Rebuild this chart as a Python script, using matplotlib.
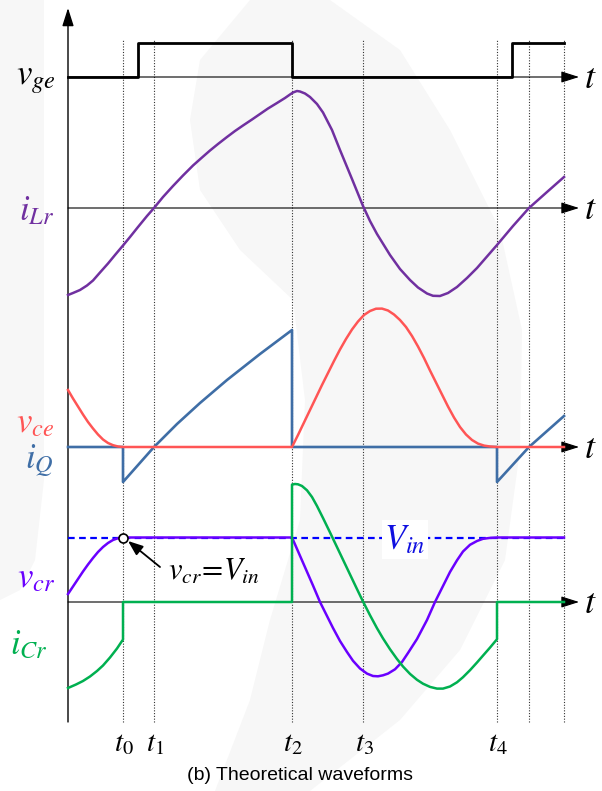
import numpy as np
import matplotlib.pyplot as plt
from matplotlib.patches import Polygon

plt.rcParams['mathtext.fontset'] = 'stix'

# switching instants (time units, 0 = vertical axis)
t_marks = [55, 86, 224, 295, 429, 461, 496]
t_names = [r'$t_0$', r'$t_1$', r'$t_2$', r'$t_3$', r'$t_4$', '', '']

# gate signal
vge_t = [0, 70, 70, 224, 224, 444, 444, 496]
vge = [0, 0, 34, 34, 0, 0, 34, 34]

# resonant inductor current
iLr_t = [0, 5, 12, 19, 25, 32, 40, 47, 55, 62, 70, 79, 86, 95, 105, 115, 125, 134, 142,
         150, 159, 167, 175, 184, 192, 200, 209, 217, 222, 225, 229, 232, 237, 242, 249,
         255, 264, 272, 284, 295, 302, 309, 322, 332, 342, 350, 359, 365, 372, 380, 389,
         399, 409, 419, 429, 445, 461, 479, 496]
iLr = [-87, -85, -82, -77.5, -72.5, -64.5, -55.5, -47, -37.5, -29, -19, -8, 0, 11, 22,
       32.5, 42.5, 50.5, 57.5, 64, 71, 77, 82.5, 88.5, 94, 99.5, 105, 110, 113.5, 115.5,
       117, 116.5, 114.5, 111, 104, 95.5, 78, 58, 29, 2, -13, -26, -47, -61, -72, -79.5,
       -85.5, -87.8, -88, -85, -79, -70, -60, -48.5, -37, -18, 0, 16, 31]

# switch voltage / current
vce_t = [0, 5, 10, 15, 20, 25, 30, 35, 40, 45, 50, 55, 224, 230, 236, 242, 248, 254,
         260, 266, 272, 278, 284, 290, 296, 302, 308, 314, 320, 326, 332, 338, 344, 350,
         356, 362, 368, 374, 380, 386, 392, 398, 404, 410, 416, 422, 429, 496]
vce = [57, 48.5, 40.5, 32.5, 25, 18.5, 12.5, 7.5, 4, 1.8, 0.5, 0, 0, 12, 24.5, 37, 49.5,
       62, 74, 86, 97.5, 108, 117.5, 125.5, 132, 136, 138.3, 138.4, 136.5, 132.5, 127,
       120, 111, 100.5, 89, 76.5, 64.5, 52.5, 40.5, 29.5, 20, 12.5, 7, 3.4, 1.4, 0.5, 0, 0]

iQ_t = [0, 55, 55, 86, 109, 132, 159, 192, 224, 224, 429, 429, 461, 496]
iQ = [0, 0, -35, 0, 23, 44, 67, 93, 117, 0, 0, -35, 0, 31]

# resonant capacitor voltage / current
vin_level = 64.5
vcr_t = [0, 5, 10, 15, 20, 25, 30, 35, 40, 45, 50, 55, 224, 231, 238, 245, 252, 259,
         265, 272, 279, 285, 292, 299, 305, 310, 315, 320, 327, 334, 340, 349, 359, 367,
         375, 382, 389, 395, 402, 409, 415, 422, 429, 496]
vcr = [8, 15.5, 23, 30.5, 37.5, 44, 50, 55, 59, 62, 63.8, 64.5, 64.5, 48.5, 32.5, 16.5,
       0, -14, -26, -39, -50, -58.8, -66.5, -71.6, -74, -74.3, -73.3, -71.6, -67.3, -60,
       -51, -37, -18, 0, 16, 30, 41.7, 50.5, 57.2, 61, 63.2, 64.1, 64.5, 64.5]

iCr_t = [0, 8, 15, 22, 29, 35, 42, 49, 55, 55, 224, 224, 227, 230, 234, 239, 244, 249,
         255, 262, 269, 275, 282, 289, 295, 302, 309, 315, 322, 329, 335, 342, 349, 355,
         362, 369, 375, 382, 389, 395, 402, 409, 415, 422, 429, 429, 496]
iCr = [-86, -82.5, -79, -74.5, -69, -63.5, -55.5, -46.5, -37.5, 0, 0, 117.4, 118, 117.7,
       116, 111.7, 105, 96, 84, 69.6, 54.9, 42.3, 27.6, 12.9, 0.5, -13.2, -26.2, -36.4,
       -47.2, -57, -64.5, -71.9, -77.8, -81.7, -84.9, -86.6, -86.6, -84.5, -80.3, -75.2,
       -68.2, -60.5, -53.6, -45.6, -37.2, 0, 0]

# baselines of the stacked traces
base_vge, base_iLr, base_ce, base_cr = 714, 583, 344, 189

c_iLr = '#7030A0'
c_vce = '#FF5555'
c_iQ = '#3F6EA6'
c_vcr = '#6A00FF'
c_iCr = '#00B050'

fig = plt.figure(figsize=(6.02, 7.91), dpi=100)
ax = fig.add_axes([0, 0, 1, 1])
ax.set_xlim(-68, 534)
ax.set_ylim(0, 791)
ax.axis('off')

# faint watermark in the background
wm = [(250, 0), (330, 0), (400, 50), (450, 130), (500, 230), (522, 330), (520, 450),
      (505, 560), (460, 650), (400, 720), (310, 791), (215, 791), (250, 700),
      (270, 620), (300, 520), (305, 400), (293, 300), (240, 250), (200, 190),
      (190, 120), (200, 60)]
ax.add_patch(Polygon([(x - 68, 791 - y) for x, y in wm], closed=True,
                     fc='#f7f7f7', ec='none', zorder=0))
strip = [(0, 0), (44, 0), (44, 480), (35, 560), (20, 590), (0, 600)]
ax.add_patch(Polygon([(x - 68, 791 - y) for x, y in strip], closed=True,
                     fc='#f7f7f7', ec='none', zorder=0))

# dotted time markers
for tm in t_marks:
    ax.plot([tm, tm], [69, 751], color='#333333', lw=0.8, ls=(0, (1, 1.5)), zorder=1)

# vertical axis
ax.annotate('', xy=(0, 783), xytext=(0, 69),
            arrowprops=dict(arrowstyle='-|>,head_length=1.1,head_width=0.35',
                            lw=1.0, color='black', shrinkA=0, shrinkB=0), zorder=2)

# horizontal axes with t labels
for b in [base_vge, base_iLr, base_ce, base_cr]:
    ax.annotate('', xy=(511, b), xytext=(0, b),
                arrowprops=dict(arrowstyle='-|>,head_length=1.1,head_width=0.35',
                                lw=0.8, color='black', shrinkA=0, shrinkB=0), zorder=2)
    ax.text(522, b - 1, r'$t$', fontsize=26, ha='center', va='center')

# waveforms
ax.plot(vge_t, np.array(vge) + base_vge, color='black', lw=2.0, zorder=4)
ax.plot(iLr_t, np.array(iLr) + base_iLr, color=c_iLr, lw=1.8, zorder=4)
ax.plot(iQ_t, np.array(iQ) + base_ce, color=c_iQ, lw=1.9, zorder=4)
ax.plot(vce_t, np.array(vce) + base_ce, color=c_vce, lw=1.8, zorder=5)

ax.plot([0, 496], [base_cr + vin_level] * 2, color='#0000FF', lw=1.6,
        ls=(0, (3, 2)), zorder=3)
ax.plot(vcr_t, np.array(vcr) + base_cr, color=c_vcr, lw=1.8, zorder=4)
ax.plot(iCr_t, np.array(iCr) + base_cr, color=c_iCr, lw=1.8, zorder=5)

# trace names
ax.text(-12, 791 - 84, r'$v_{ge}$', fontsize=25, ha='right', va='baseline', color='black')
ax.text(-14, 791 - 220, r'$i_{Lr}$', fontsize=25, ha='right', va='baseline', color=c_iLr)
ax.text(-14, 791 - 432, r'$v_{ce}$', fontsize=25, ha='right', va='baseline', color=c_vce)
ax.text(-14, 791 - 468, r'$i_{Q}$', fontsize=25, ha='right', va='baseline', color=c_iQ)
ax.text(-13, 791 - 587, r'$v_{cr}$', fontsize=25, ha='right', va='baseline', color=c_vcr)
ax.text(-20, 791 - 654, r'$i_{Cr}$', fontsize=25, ha='right', va='baseline', color=c_iCr)

# V_in label
ax.text(337, base_cr + vin_level - 2, r'$V_{in}$', fontsize=25, ha='center', va='center',
        color='#1010E0', zorder=6,
        bbox=dict(fc='white', ec='none', pad=1.5))

# v_cr = V_in marker and arrow
ax.plot([t_marks[0]], [base_cr + vin_level], 'o', ms=6.5, mfc='white', mec='black',
        mew=1.2, zorder=7)
ax.annotate('', xy=(60, 791 - 541), xytext=(92, 791 - 567),
            arrowprops=dict(arrowstyle='-|>,head_length=0.9,head_width=0.35',
                            lw=1.3, color='black', shrinkA=0, shrinkB=0), zorder=7)
ax.text(100, 791 - 580, r'$v_{cr}\!=\!V_{in}$', fontsize=22, ha='left', va='baseline')

# time instant labels
for tm, nm in zip(t_marks, t_names):
    if nm:
        ax.text(tm + 1, 791 - 751, nm, fontsize=21, ha='center', va='baseline')

# caption
fig.text(300 / 602, 1 - 775 / 791, '(b) Theoretical waveforms', fontsize=14,
         family='Liberation Sans', ha='center', va='center')

fig.savefig('out.png', dpi=100, facecolor='white')
